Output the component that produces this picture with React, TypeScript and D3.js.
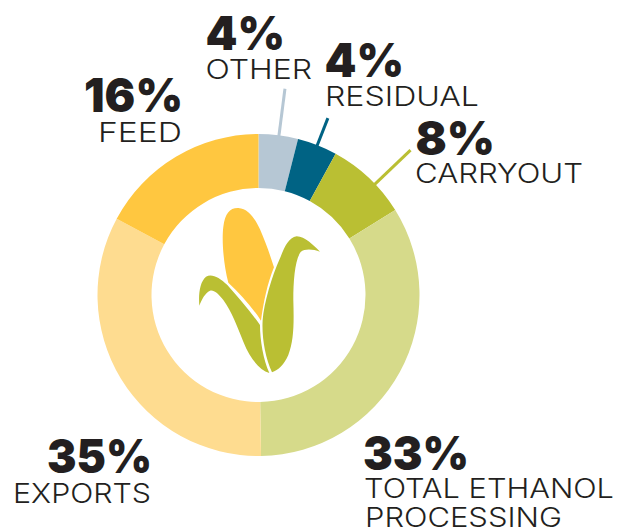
import React from "react";
import * as d3 from "d3";

const categories = ["OTHER", "RESIDUAL", "CARRYOUT", "TOTAL ETHANOL PROCESSING", "EXPORTS", "FEED"];
const percentLabels = ["4%", "4%", "8%", "33%", "35%", "16%"];
// Slice sizes as drawn in the picture (they differ slightly from the printed labels)
const sliceShares = [3.95, 4.0, 8.2, 33.6, 33.1, 17.15];
const sliceColors = ["#B6C7D4", "#006384", "#BABF33", "#D6DA8A", "#FEDC90", "#FFC740"];

const W = 633, H = 528, CX = 258.5, CY = 295, R = 161, R0 = 107;
const FONT = "Inter, 'Noto Sans', sans-serif";
const INK = "#231F20";

// label layout: [percent x, percent right, percent baseline], and one row per label line
const labelLayout = [
  { p: [205.5, 285, 50], lines: [[205.5, 312, 78.5]] },
  { p: [324.5, 404, 76.5], lines: [[325, 479, 106]] },
  { p: [415.5, 495, 155], lines: [[415, 583, 183]] },
  { p: [363, 469, 470], lines: [[364, 614, 498], [365, 562, 527]] },
  { p: [47, 152, 473], lines: [[13, 151, 503]] },
  { p: [84, 183, 112], lines: [[98, 182, 141.5]] },
];
const labelLines = [["OTHER"], ["RESIDUAL"], ["CARRYOUT"], ["TOTAL ETHANOL", "PROCESSING"], ["EXPORTS"], ["FEED"]];

// leader lines: slice index, angle offset from the slice middle (deg), outer radius
const leaders = [
  { i: 0, off: 0.2, r: 208 },
  { i: 1, off: 0, r: 190 },
  { i: 2, off: 3, r: 210 },
];

const EAR = "M145 278 C130 220,125 150,130 110 C135 70,150 53,175 54 C205 56,225 85,240 118 C258 160,272 200,282 232 C262 280,250 340,243 392 C215 350,180 310,145 278 Z";
const LEAF_L = "M58 347 C55 310,60 275,78 260 C95 250,118 262,142 285 C175 322,210 362,240 405 C240 450,250 510,268 549 C240 540,212 510,190 455 C172 410,155 365,130 330 C115 310,100 298,90 302 C75 308,65 330,58 347 Z";
const LEAF_R = "M420 185 C400 178,375 175,362 186 C345 210,340 270,340 330 C342 400,342 450,325 495 C312 525,295 540,276 547 C255 500,245 440,248 390 C252 340,275 260,300 205 C312 175,325 142,350 139 C375 140,400 165,420 185 Z";

export default function App() {
  const pie = d3.pie<number>().sort(null).value((d) => d);
  const slices = pie(sliceShares);
  const arc = d3.arc<d3.PieArcDatum<number>>().innerRadius(R0).outerRadius(R);
  return (
    <svg width={W} height={H} style={{ position: "absolute", left: 0, top: 0, display: "block" }} fontFamily={FONT}>
      <g transform={`translate(${CX},${CY})`}>
        {leaders.map((l) => {
          const s = slices[l.i];
          const a = (s.startAngle + s.endAngle) / 2 + (l.off * Math.PI) / 180;
          const [x1, y1] = d3.pointRadial(a, R - 2);
          const [x2, y2] = d3.pointRadial(a, l.r);
          return <line key={l.i} x1={x1} y1={y1} x2={x2} y2={y2} stroke={sliceColors[l.i]} strokeWidth={3} />;
        })}
        {slices.map((s, i) => (
          <path key={categories[i]} d={arc(s) || ""} fill={sliceColors[i]} />
        ))}
      </g>
      <g transform="translate(180,190) scale(0.3333)">
        <path d={EAR} fill="#FFC740" />
        <path d={LEAF_L} fill="#BABF33" />
        <path d={LEAF_R} fill="#BABF33" />
      </g>
      {labelLayout.map((l, i) => (
        <g key={i}>
          <text x={l.p[0]} y={l.p[2]} fontSize={47} fontWeight={900} fill={INK} textLength={l.p[1] - l.p[0]} lengthAdjust="spacingAndGlyphs">
            {percentLabels[i]}
          </text>
          {l.lines.map((ln, j) => (
            <text key={j} x={ln[0]} y={ln[2]} fontSize={26.5} fontWeight={300} fill={INK} textLength={ln[1] - ln[0]} lengthAdjust="spacingAndGlyphs">
              {labelLines[i][j]}
            </text>
          ))}
        </g>
      ))}
    </svg>
  );
}
